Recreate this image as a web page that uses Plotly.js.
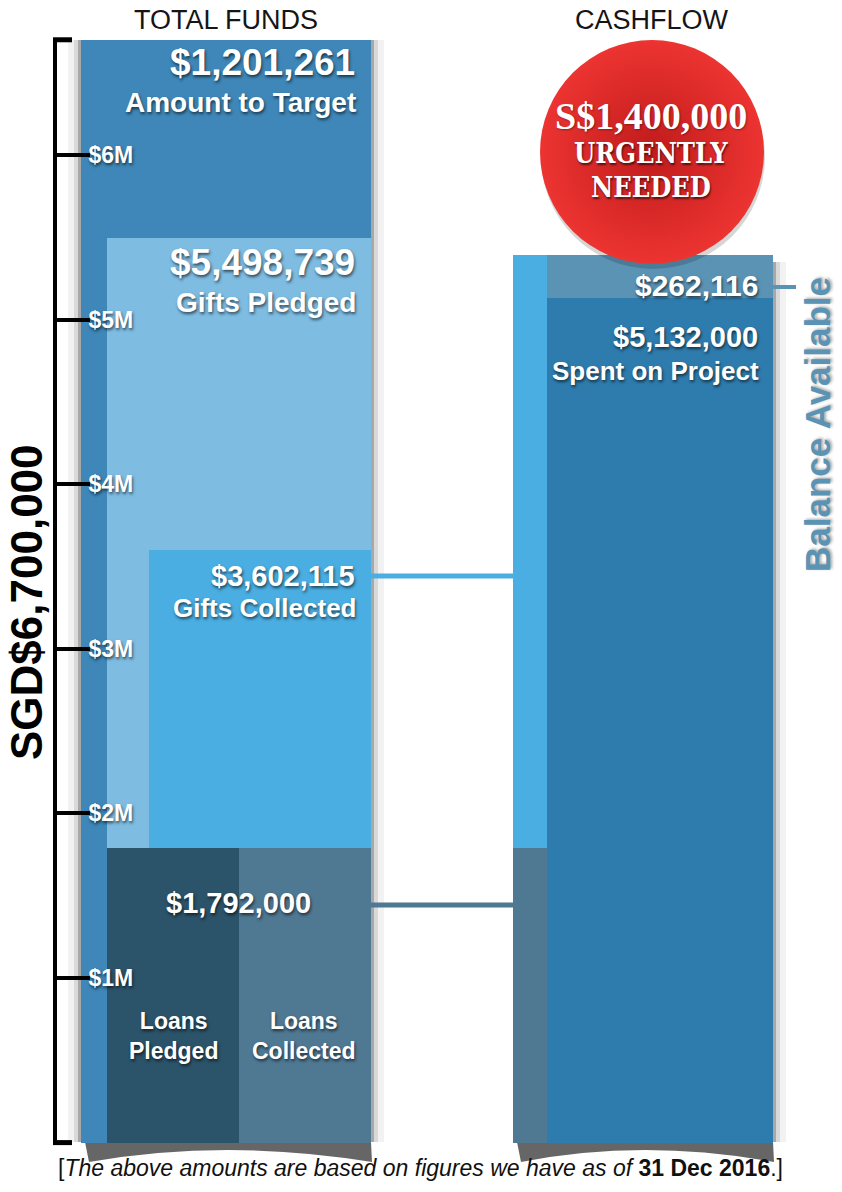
<!DOCTYPE html>
<html>
<head>
<meta charset="utf-8">
<script src="https://cdn.plot.ly/plotly-3.0.1.min.js"></script>
<style>
  html, body { margin: 0; padding: 0; background: #ffffff; }
  #chart { width: 842px; height: 1192px; }
</style>
</head>
<body>
<div id="chart"></div>
<script>
// ---- Campaign figures (SGD) ----
const target = 6700000;
const giftsPledged = 5498739;
const giftsCollected = 3602115;
const loansPledged = 1792000;
const loansCollected = 1792000;
const spentOnProject = 5132000;
const balanceAvailable = 262116;
const urgentlyNeeded = 1400000;
const tickValues = [1000000, 2000000, 3000000, 4000000, 5000000, 6000000];
const tickLabels = ['$1M', '$2M', '$3M', '$4M', '$5M', '$6M'];
const columnTitles = ['TOTAL FUNDS', 'CASHFLOW'];
const asOfDate = '31 Dec 2016';

const amountToTarget = target - giftsPledged;

// ---- Page geometry (pixels) ----
const W = 842, H = 1192;
const pxPerMillion = 164.6;
const zeroPx = 1142.6;
const yMin = -(H - zeroPx) / pxPerMillion * 1e6;
const yMax = zeroPx / pxPerMillion * 1e6;
const py = p => 1 - p / H;                          // pixel row -> paper fraction
const yAt = p => (zeroPx - p) / pxPerMillion * 1e6; // pixel row -> value

const fmt = v => '$' + v.toLocaleString('en-US');

const SANS = 'Liberation Sans, Arial, Helvetica, sans-serif';
const SHADOW = 'rgba(0,0,0,0.6) 1px 2px 3px';

const C = {
  target: '#3e87b8',
  giftsPledged: '#7ebce2',
  giftsCollected: '#4aaee2',
  loansPledged: '#2b5369',
  loansCollected: '#4f7893',
  spent: '#2e7cad',
  balance: '#5b93b5'
};

// column placement: [left, right] in pixels
const total = { left: 81, inner: 107, gifts: 149, mid: 239, right: 371 };
const cash = { left: 513, split: 547, right: 773 };

function block(name, x0, x1, base, value, color) {
  return {
    type: 'bar', name: name,
    x: [(x0 + x1) / 2], width: [x1 - x0],
    base: [base], y: [value],
    marker: { color: color, line: { width: 0 } },
    hoverinfo: 'skip', showlegend: false
  };
}

const traces = [
  // Total funds column (overlapping layers, back to front)
  block('Target', total.left, total.right, 0, target, C.target),
  block('Gifts Pledged', total.inner, total.right, 0, giftsPledged, C.giftsPledged),
  block('Gifts Collected', total.gifts, total.right, 0, giftsCollected, C.giftsCollected),
  block('Loans Pledged', total.inner, total.mid, 0, loansPledged, C.loansPledged),
  block('Loans Collected', total.mid, total.right, 0, loansCollected, C.loansCollected),
  // Cashflow column: sources on the left strip, uses on the right
  block('Loans in', cash.left, cash.split, 0, loansCollected, C.loansCollected),
  block('Gifts in', cash.left, cash.split, loansCollected, giftsCollected, C.giftsCollected),
  block('Spent', cash.split, cash.right, 0, spentOnProject, C.spent),
  block('Balance', cash.split, cash.right, spentOnProject, balanceAvailable, C.balance),
  // Urgent-appeal badge
  {
    type: 'scatter', mode: 'markers', x: [653], y: [yAt(157)],
    marker: { size: 224, color: 'rgba(0,0,0,0.16)', line: { width: 0 } },
    hoverinfo: 'skip', showlegend: false
  },
  {
    type: 'scatter', mode: 'markers', x: [652], y: [yAt(152)],
    marker: {
      size: 224, color: '#ec3431', line: { width: 0 },
      gradient: { type: 'radial', color: '#c01b1c' }
    },
    hoverinfo: 'skip', showlegend: false
  }
];

// ---- Decorative shadows and the value bracket ----
const shapes = [];
function sideShadow(x, yTop, yBot, dir) {
  const steps = [[3, 0.22], [7, 0.10], [13, 0.05]];
  steps.forEach(([w, a]) => {
    shapes.push({
      type: 'rect', xref: 'x', yref: 'paper', layer: 'below',
      x0: x, x1: x + dir * w, y0: py(yTop), y1: py(yBot),
      fillcolor: 'rgba(0,0,0,' + a + ')', line: { width: 0 }
    });
  });
}
sideShadow(total.right, 40, 1142, 1);
sideShadow(total.left, 40, 1142, -1);
sideShadow(cash.right, 262, 1142, 1);

function curlShadow(x0, x1) {
  const top = 1142, bot = 1162;
  return {
    type: 'path', xref: 'x', yref: 'paper', layer: 'below',
    path: `M ${x0 + 4},${py(top)} L ${x1},${py(top)} L ${x1 + 1},${py(bot)} ` +
          `Q ${(x0 + x1) / 2},${py(top - 4)} ${x0 + 8},${py(bot)} Z`,
    fillcolor: 'rgba(0,0,0,0.6)', line: { width: 0 }
  };
}
shapes.push(curlShadow(total.left, total.right));
shapes.push(curlShadow(cash.left, cash.right));

// bracket spanning the full target
const bracket = { width: 4, color: '#000' };
shapes.push({ type: 'line', xref: 'x', yref: 'y', x0: 55, x1: 55, y0: 0, y1: target, line: bracket });
shapes.push({ type: 'line', xref: 'x', yref: 'y', x0: 53, x1: 72, y0: target, y1: target, line: { width: 5, color: '#000' } });
shapes.push({ type: 'line', xref: 'x', yref: 'y', x0: 53, x1: 72, y0: 0, y1: 0, line: { width: 5, color: '#000' } });

// connectors from the total column to the cashflow column
shapes.push({ type: 'line', xref: 'x', yref: 'paper', x0: total.right, x1: cash.left, y0: py(576), y1: py(576), line: { width: 5, color: C.giftsCollected } });
shapes.push({ type: 'line', xref: 'x', yref: 'paper', x0: total.right, x1: cash.left, y0: py(905), y1: py(905), line: { width: 5, color: C.loansCollected } });
shapes.push({ type: 'line', xref: 'x', yref: 'paper', x0: cash.right, x1: 796, y0: py(287), y1: py(287), line: { width: 4, color: C.balance } });

// ---- Text ----
function label(text, x, yPx, size, opts) {
  return Object.assign({
    text: text, xref: 'x', yref: 'paper', x: x, y: py(yPx),
    xanchor: 'right', yanchor: 'middle', showarrow: false,
    font: { family: SANS, size: size, color: '#ffffff', weight: 'bold', shadow: SHADOW }
  }, opts || {});
}

const TITLE_FONT = { family: 'Liberation Sans Narrow, Arial Narrow, sans-serif', size: 27, color: '#151515' };

const annotations = [
  label(columnTitles[0], 226, 20, 27, { xanchor: 'center', font: TITLE_FONT }),
  label(columnTitles[1], 652, 20, 27, { xanchor: 'center', font: TITLE_FONT }),

  label(fmt(amountToTarget), 357, 62, 37),
  label('Amount to Target', 358, 103, 28),
  label(fmt(giftsPledged), 357, 262, 37),
  label('Gifts Pledged', 358, 302, 28),
  label(fmt(giftsCollected), 357, 576, 29),
  label('Gifts Collected', 358, 608, 26),
  label(fmt(loansPledged), 238, 903, 29, { xanchor: 'center' }),
  label('Loans<br>Pledged', 173, 1036, 23, { xanchor: 'center' }),
  label('Loans<br>Collected', 304, 1036, 23, { xanchor: 'center' }),

  label(fmt(balanceAvailable), 760, 286, 30),
  label(fmt(spentOnProject), 760, 337, 29),
  label('Spent on Project', 761, 371, 26),
  label('Balance Available', 818, 425, 35, {
    xanchor: 'center', textangle: -90,
    font: { family: SANS, size: 35, color: C.balance, weight: 'bold', shadow: 'rgba(0,0,0,0.35) 1px 2px 3px' }
  }),

  label('SGD' + fmt(target), 26, 602, 44, {
    xanchor: 'center', textangle: -90,
    font: { family: SANS, size: 44, color: '#000000', weight: 'bold' }
  }),

  label('S' + fmt(urgentlyNeeded), 651, 116, 38, {
    xanchor: 'center',
    font: { family: 'Liberation Serif, Times New Roman, serif', size: 38, color: '#ffffff', weight: 'bold', shadow: 'rgba(0,0,0,0.35) 1px 1px 2px' }
  }),
  label('URGENTLY', 651, 154, 27, {
    xanchor: 'center',
    font: { family: 'DejaVu Serif Condensed, DejaVu Serif, serif', size: 27, color: '#ffffff', weight: 'bold', shadow: 'rgba(0,0,0,0.6) 1px 2px 2px' }
  }),
  label('NEEDED', 651, 188, 27, {
    xanchor: 'center',
    font: { family: 'DejaVu Serif Condensed, DejaVu Serif, serif', size: 27, color: '#ffffff', weight: 'bold', shadow: 'rgba(0,0,0,0.6) 1px 2px 2px' }
  }),

  label('[<i>The above amounts are based on figures we have as of </i><b>' + asOfDate + '</b>.]', 420, 1168, 23, {
    xanchor: 'center',
    font: { family: SANS, size: 23, color: '#111111' }
  })
];

const layout = {
  width: W, height: H,
  margin: { l: 0, r: 0, t: 0, b: 0, pad: 0 },
  paper_bgcolor: '#ffffff', plot_bgcolor: '#ffffff',
  barmode: 'overlay', bargap: 0,
  showlegend: false,
  xaxis: { range: [0, W], visible: false, fixedrange: true },
  yaxis: {
    range: [yMin, yMax], anchor: 'free', position: 55 / W,
    showgrid: false, zeroline: false, showline: false,
    ticks: 'inside', ticklen: 34, tickwidth: 4, tickcolor: '#000000',
    tickvals: tickValues, ticktext: tickLabels,
    ticklabelposition: 'inside',
    tickfont: { family: SANS, size: 23, color: '#ffffff', weight: 'bold', shadow: SHADOW },
    fixedrange: true
  },
  shapes: shapes,
  annotations: annotations
};

Plotly.newPlot('chart', traces, layout, { displayModeBar: false, staticPlot: true });
</script>
</body>
</html>
